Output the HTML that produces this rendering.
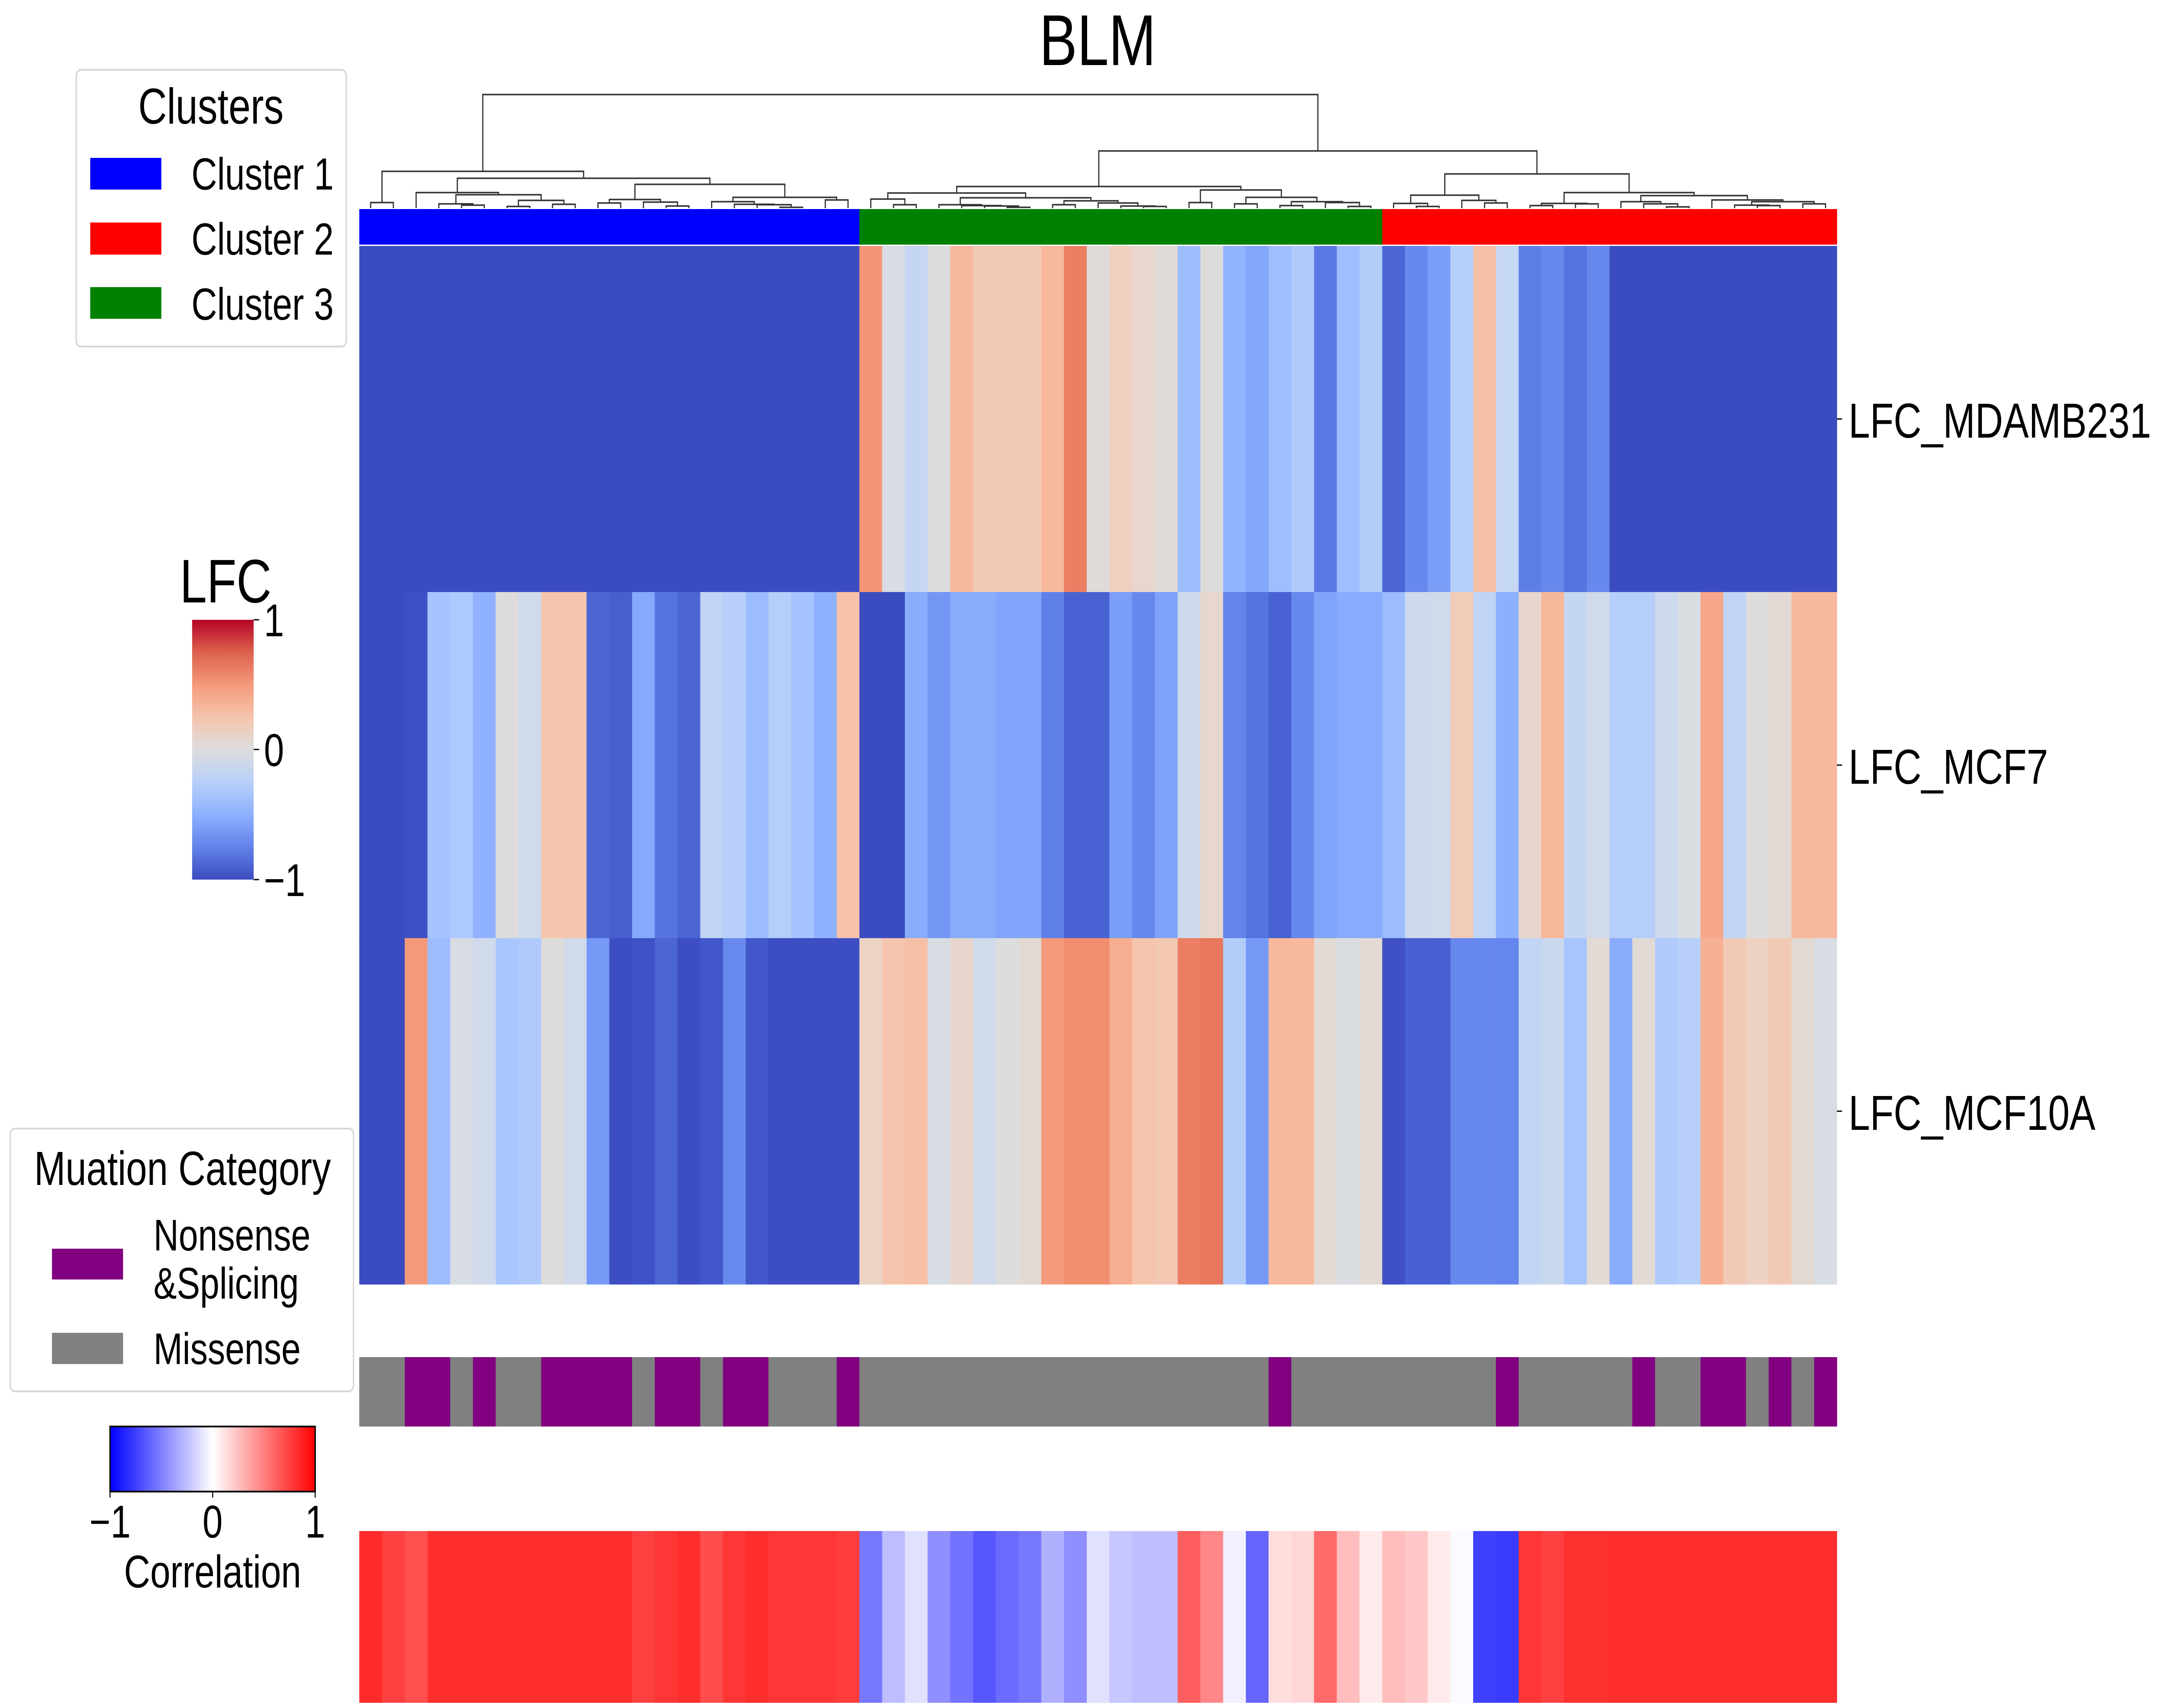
<!DOCTYPE html>
<html><head><meta charset="utf-8"><style>
html,body{margin:0;padding:0;background:#fff;overflow:hidden;width:100vw;height:100vh;}
svg{display:block;width:100vw;height:100vh;font-family:"Liberation Sans",Arial,sans-serif;}
</style></head>
<body>
<svg id="chart" xmlns="http://www.w3.org/2000/svg" viewBox="0 0 6345 3938" preserveAspectRatio="none">
<defs>
<linearGradient id="cwGrad" x1="0" y1="1" x2="0" y2="0">
<stop offset="0" stop-color="#3b4cc0"/><stop offset="0.125" stop-color="#6282ea"/><stop offset="0.25" stop-color="#8db0fe"/><stop offset="0.375" stop-color="#b8d0f9"/><stop offset="0.5" stop-color="#dddddd"/><stop offset="0.625" stop-color="#f5c4ad"/><stop offset="0.75" stop-color="#f49a7b"/><stop offset="0.875" stop-color="#de604d"/><stop offset="1" stop-color="#b40426"/>
</linearGradient>
<linearGradient id="bwrGrad" x1="0" y1="0" x2="1" y2="0">
<stop offset="0" stop-color="#0000ff"/><stop offset="0.5" stop-color="#ffffff"/><stop offset="1" stop-color="#ff0000"/>
</linearGradient>
</defs>

<text x="3211" y="150" font-size="166" text-anchor="middle">BLM</text>

<g id="dendro"></g>
<g id="clusterBar"></g>
<g id="heat"></g>
<g id="mut"></g>
<g id="corr"></g>
<g id="rowLabels"></g>

<g>
<rect x="223" y="161" width="790" height="638" rx="14" fill="#fff" stroke="#d6d6d6" stroke-width="4"/>
<text x="617" y="285" font-size="116" text-anchor="middle">Clusters</text>
<rect x="264" y="364" width="208" height="73" fill="#0000ff"/>
<text x="560" y="437" font-size="104">Cluster 1</text>
<rect x="264" y="513" width="208" height="74" fill="#ff0000"/>
<text x="560" y="587" font-size="104">Cluster 2</text>
<rect x="264" y="662" width="208" height="73" fill="#008000"/>
<text x="560" y="737" font-size="104">Cluster 3</text>
</g>

<g>
<text x="526" y="1389" font-size="142">LFC</text>
<rect x="562" y="1429" width="180" height="599" fill="url(#cwGrad)"/>
<line x1="742" y1="1429" x2="758" y2="1429" stroke="#000" stroke-width="3"/>
<line x1="742" y1="1728" x2="758" y2="1728" stroke="#000" stroke-width="3"/>
<line x1="742" y1="2028" x2="758" y2="2028" stroke="#000" stroke-width="3"/>
<text x="772" y="1467" font-size="106">1</text>
<text x="772" y="1766" font-size="106">0</text>
<text x="772" y="2066" font-size="106">−1</text>
</g>

<g>
<rect x="30" y="2602" width="1004" height="606" rx="14" fill="#fff" stroke="#d6d6d6" stroke-width="4"/>
<text x="534" y="2732" font-size="110" text-anchor="middle">Muation Category</text>
<rect x="152" y="2879" width="208" height="71" fill="#800080"/>
<text x="449" y="2883" font-size="102">Nonsense</text>
<text x="449" y="2994" font-size="102">&amp;Splicing</text>
<rect x="152" y="3073" width="208" height="72" fill="#808080"/>
<text x="449" y="3145" font-size="102">Missense</text>
</g>

<g>
<rect x="322" y="3289" width="600" height="150" fill="url(#bwrGrad)" stroke="#000" stroke-width="4"/>
<line x1="322" y1="3439" x2="322" y2="3453" stroke="#000" stroke-width="3"/>
<line x1="622" y1="3439" x2="622" y2="3453" stroke="#000" stroke-width="3"/>
<line x1="922" y1="3439" x2="922" y2="3453" stroke="#000" stroke-width="3"/>
<text x="322" y="3545" font-size="106" text-anchor="middle">−1</text>
<text x="622" y="3545" font-size="106" text-anchor="middle">0</text>
<text x="922" y="3545" font-size="106" text-anchor="middle">1</text>
<text x="622" y="3660" font-size="106" text-anchor="middle">Correlation</text>
</g>
</svg>

<script>
// ---- data ----
const rowNames = ["LFC_MDAMB231", "LFC_MCF7", "LFC_MCF10A"];
const lfcMDAMB231 = [-1,-1,-1,-1,-1,-1,-1,-1,-1,-1,-1,-1,-1,-1,-1,-1,-1,-1,-1,-1,-1,-1,
 0.52,-0.04,-0.17,0.0,0.33,0.21,0.21,0.21,0.33,0.625,0.02,0.16,0.08,0.03,-0.41,0.01,-0.47,-0.55,-0.40,-0.3,-0.8,-0.4,-0.28,
 -0.89,-0.72,-0.6,-0.26,0.28,-0.16,-0.77,-0.72,-0.82,-0.72,-1,-1,-1,-1,-1,-1,-1,-1,-1,-1];
const lfcMCF7 = [-1,-1,-0.98,-0.36,-0.31,-0.49,0.01,-0.1,0.25,0.25,-0.89,-0.92,-0.54,-0.82,-0.89,-0.2,-0.25,-0.42,-0.27,-0.36,-0.49,0.27,
 -1,-1,-0.52,-0.64,-0.52,-0.52,-0.56,-0.56,-0.76,-0.9,-0.9,-0.6,-0.72,-0.58,-0.12,0.08,-0.74,-0.82,-0.9,-0.72,-0.57,-0.53,-0.53,
 -0.42,-0.12,-0.1,0.19,-0.2,-0.5,0.09,0.34,-0.17,-0.1,-0.26,-0.26,-0.125,-0.03,0.43,-0.2,0,0.04,0.33,0.33];
const lfcMCF10A = [-1,-1,0.5,-0.41,-0.04,-0.1,-0.34,-0.3,0.01,-0.1,-0.63,-0.99,-0.97,-0.89,-0.99,-0.95,-0.71,-0.95,-0.99,-0.99,-0.99,-0.99,
 0.125,0.25,0.28,-0.04,0.09,-0.1,0,0.05,0.5,0.56,0.56,0.4,0.25,0.22,0.625,0.66,-0.28,-0.63,0.33,0.33,0.04,-0.03,0.04,
 -0.98,-0.91,-0.91,-0.72,-0.72,-0.73,-0.19,-0.14,-0.35,0.04,-0.52,0.04,-0.3,-0.25,0.38,0.21,0.14,0.21,0.05,-0.04];
const mutationCategory = ["M","M","N","N","M","N","M","M","N","N","N","N","M","N","N","M","N","N","M","M","M","N",
 "M","M","M","M","M","M","M","M","M","M","M","M","M","M","M","M","M","M","N","M","M","M","M",
 "M","M","M","M","M","N","M","M","M","M","M","N","M","M","N","N","M","N","M","N"];
const correlation = [0.83,0.75,0.69,0.82,0.82,0.82,0.82,0.82,0.82,0.82,0.82,0.82,0.75,0.79,0.82,0.7,0.79,0.82,0.79,0.79,0.79,0.76,
 -0.53,-0.26,-0.12,-0.44,-0.55,-0.66,-0.58,-0.53,-0.31,-0.44,-0.12,-0.22,-0.25,-0.25,0.63,0.47,-0.06,-0.6,0.13,0.16,0.58,0.26,0.08,
 0.26,0.22,0.08,-0.02,-0.75,-0.77,0.79,0.75,0.81,0.81,0.82,0.82,0.82,0.82,0.82,0.82,0.82,0.82,0.82,0.82];
const clusterOf = ["C1","C1","C1","C1","C1","C1","C1","C1","C1","C1","C1","C1","C1","C1","C1","C1","C1","C1","C1","C1","C1","C1",
 "C3","C3","C3","C3","C3","C3","C3","C3","C3","C3","C3","C3","C3","C3","C3","C3","C3","C3","C3","C3","C3","C3","C3",
 "C2","C2","C2","C2","C2","C2","C2","C2","C2","C2","C2","C2","C2","C2","C2","C2","C2","C2","C2","C2"];
// dendrogram: [mergeHeight, left, right]; leaves are column indices
const treeC1 = [85,[13,0,1],[69,[36,2,[31,[10,3,[7,4,5]],[18,[4,6,7],[9,8,9]]]],
 [55,[20,[12,10,11],[14,12,[5,13,14]]],[25,[15,15,[9,16,[8,17,[2,18,19]]]],[19,20,21]]]]];
const treeC3 = [50,[35,[21,22,[8,23,24]],[24,[8,25,[6,26,[5,27,[2,28,29]]]],[17,[8,30,31],[12,32,[5,33,[4,34,35]]]]]],
 [42,[13,36,37],[25,[10,38,39],[15,[6,40,41],[13,42,[4,43,44]]]]]];
const treeC2 = [79,[30,[11,45,[4,46,47]],[18,48,[12,49,50]]],
 [36,[11,[6,51,52],[10,53,54]],[29,[15,55,[10,56,[3,57,58]]],[19,59,[15,[7,60,[6,61,62]],[10,63,64]]]]]];
const tree = [262, treeC1, [132, treeC3, treeC2]];

// ---- layout ----
const X0 = 1051, CW = 66.5, N = lfcMDAMB231.length;
const HM_TOP = 567, ROW_H = 798;
const LEAF_Y = 480;
const NS = "http://www.w3.org/2000/svg";
const xAt = i => X0 + i * CW;
const yRow = r => HM_TOP + r * ROW_H;
const yTree = h => LEAF_Y - h;

function el(tag, attrs, parent){ const e=document.createElementNS(NS,tag); for(const k in attrs) e.setAttribute(k,attrs[k]); parent.appendChild(e); return e; }

const cwStops = [[59,76,192],[68,90,204],[77,104,215],[87,117,225],[98,130,234],[108,142,241],[119,154,247],[130,165,251],[141,176,254],[152,185,255],[163,194,255],[174,201,253],[184,208,249],[194,213,244],[204,217,238],[213,219,230],[221,221,221],
 [229,216,209],[236,211,197],[241,204,185],[245,196,173],[247,187,160],[247,177,148],[247,166,135],[244,154,123],[241,141,111],[236,127,99],[229,112,88],[222,96,77],[213,80,66],[203,62,56],[192,40,47],[180,4,38]];
function coolwarm(v){
  const t = Math.max(0,Math.min(1,(v+1)/2))*(cwStops.length-1);
  const i = Math.min(cwStops.length-2, Math.floor(t)), f = t-i;
  const a=cwStops[i], b=cwStops[i+1];
  return `rgb(${Math.round(a[0]+(b[0]-a[0])*f)},${Math.round(a[1]+(b[1]-a[1])*f)},${Math.round(a[2]+(b[2]-a[2])*f)})`;
}
function bwr(v){
  v=Math.max(-1,Math.min(1,v));
  if(v<0){ const c=Math.round(255*(1+v)); return `rgb(${c},${c},255)`; }
  const c=Math.round(255*(1-v)); return `rgb(255,${c},${c})`;
}
const clusterColor = {C1:"#0000ff", C2:"#ff0000", C3:"#008000"};
const mutColor = {N:"#800080", M:"#808080"};

// heatmap
const heat = document.getElementById("heat");
const rows = [lfcMDAMB231, lfcMCF7, lfcMCF10A];
rows.forEach((vals, r) => {
  vals.forEach((v, i) => {
    const c = el("rect", {x:xAt(i), y:yRow(r), width:CW+0.6, height:ROW_H+0.6, fill:coolwarm(v)}, heat);
    
    
  });
});

// cluster bar
const cb = document.getElementById("clusterBar");
clusterOf.forEach((c, i) => {
  const r = el("rect", {x:xAt(i), y:482, width:CW+0.6, height:82, fill:clusterColor[c]}, cb);
  
  
});

// mutation row
const mut = document.getElementById("mut");
mutationCategory.forEach((m, i) => {
  const r = el("rect", {x:xAt(i), y:3129, width:CW+0.6, height:160, fill:mutColor[m]}, mut);
  
  
});

// correlation row
const corr = document.getElementById("corr");
correlation.forEach((v, i) => {
  const r = el("rect", {x:xAt(i), y:3530, width:CW+0.6, height:396, fill:bwr(v)}, corr);
  
  
});

// row labels + ticks
const rl = document.getElementById("rowLabels");
const hmRight = xAt(N);
rowNames.forEach((name, r) => {
  const yc = yRow(r) + ROW_H/2;
  el("line", {x1:hmRight, y1:yc, x2:hmRight+15, y2:yc, stroke:"#000", "stroke-width":3}, rl);
  const t = el("text", {x:hmRight+34, y:yc+43, "font-size":113}, rl);
  t.textContent = name;
  
  
});

// dendrogram
const dg = document.getElementById("dendro");
function drawNode(node){
  if (typeof node === "number") return {x: xAt(node) + CW/2, y: LEAF_Y};
  const L = drawNode(node[1]), R = drawNode(node[2]);
  const y = yTree(node[0]);
  const p = el("path", {d:`M${L.x},${L.y}V${y}H${R.x}V${R.y}`, fill:"none", stroke:"#333", "stroke-width":3.5}, dg);
  
  
  return {x:(L.x+R.x)/2, y:y};
}
drawNode(tree);
</script>
</body></html>
